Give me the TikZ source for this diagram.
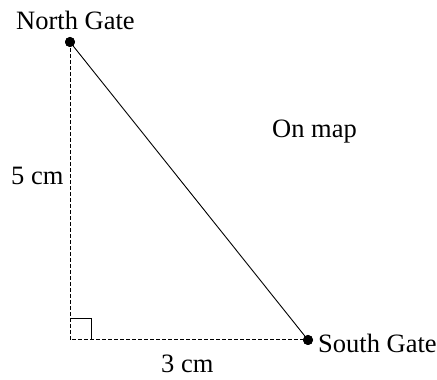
\documentclass[tikz,border=0pt]{standalone}
\usepackage{fontspec}
\setmainfont{Liberation Serif}
\usepackage{tikz}
\usetikzlibrary{calc}

\tikzset{
	gatedot/.style={circle, fill=black, inner sep=0pt, minimum size=10pt},
	maptext/.style={anchor=base west, inner sep=0pt, font=\fontsize{26.5}{30}\selectfont},
	guide/.style={line width=1pt, dash pattern=on 4pt off 2pt}
}

\begin{document}
\begin{tikzpicture}[x=1pt, y=1pt]
				\useasboundingbox (0,0) rectangle (437,380);
				
				% Corner of the triangle
				\coordinate (corner) at (70,40);
				
				% Gates
				\node[gatedot] (northgate) at (70,338) {};
				\node[gatedot] (southgate) at (308,40) {};
				
				% Dashed legs
				\draw[guide] (northgate.center) -- (corner) -- (southgate.center);
				
				% Right angle mark
				\draw[line width=1pt] ($(corner)+(0,21)$) -- ++(21,0) -- ++(0,-21);
				
				% Straight line between the gates
				\draw[line width=0.9pt] (northgate.center) -- (southgate.center);
				\node[gatedot] at (northgate) {};
				\node[gatedot] at (southgate) {};
				
				% Labels
				\node[maptext] (northlabel) at (16,350) {North Gate};
				\node[maptext] (southlabel) at (318,27) {South Gate};
				\node[maptext] (maplabel) at (272,242) {On map};
				\node[maptext] (upright) at (11,195) {5 cm};
				\node[maptext] (across) at (161,7) {3 cm};
			\end{tikzpicture}
\end{document}
